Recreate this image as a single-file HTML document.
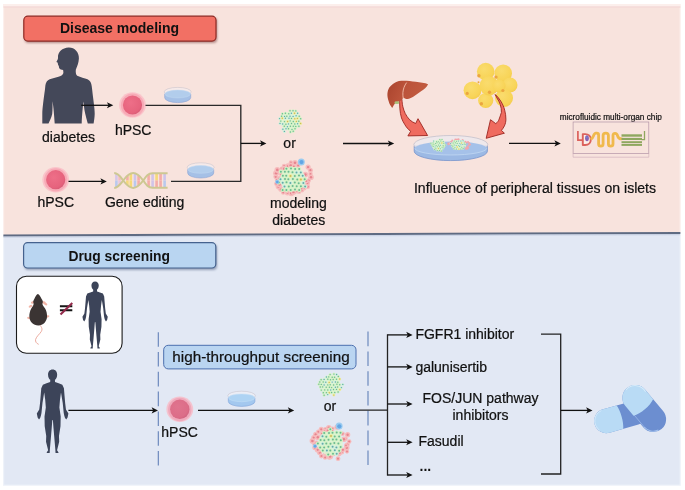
<!DOCTYPE html>
<html lang="en"><head><meta charset="utf-8"><title>Disease modeling and drug screening</title>
<style>html,body{margin:0;padding:0;background:#fff}body{width:685px;height:490px;overflow:hidden}svg{display:block}text{font-family:"Liberation Sans",Arial,Helvetica,sans-serif;fill:#111;opacity:.999;stroke:#111;stroke-width:.22px}text[font-weight]{stroke-width:0}</style></head><body>
<svg width="685" height="490" viewBox="0 0 685 490">
<defs>
<radialGradient id="gcell" cx="0.4" cy="0.38" r="0.75"><stop offset="0" stop-color="#ee6f88"/><stop offset="0.7" stop-color="#e6637d"/><stop offset="1" stop-color="#cf5570"/></radialGradient>
<radialGradient id="gcell2" cx="0.4" cy="0.38" r="0.75"><stop offset="0" stop-color="#e0748e"/><stop offset="0.7" stop-color="#dc6d88"/><stop offset="1" stop-color="#c95d7a"/></radialGradient>
<linearGradient id="gliver" x1="0" y1="0" x2="1" y2="0.3"><stop offset="0" stop-color="#a9432d"/><stop offset="0.45" stop-color="#bb533a"/><stop offset="1" stop-color="#c25c40"/></linearGradient>
<radialGradient id="gfat" cx="0.4" cy="0.35" r="0.7"><stop offset="0" stop-color="#fadc6e"/><stop offset="0.75" stop-color="#f8d458"/><stop offset="1" stop-color="#f4cb4c"/></radialGradient>
<filter id="soft" x="-10%" y="-10%" width="120%" height="120%"><feGaussianBlur stdDeviation="0.35"/></filter>
<filter id="blur1" x="-10%" y="-30%" width="120%" height="160%"><feGaussianBlur stdDeviation="0.8"/></filter>
</defs>
<rect x="0" y="0" width="685" height="490" fill="#ffffff"/>
<rect x="3" y="235" width="677.8" height="250.8" fill="#eef2f9"/>
<rect x="4.2" y="230" width="675.4" height="254.6" fill="#e2e8f4"/>
<path d="M3 3.9H680.8V232.4L3 235.2Z" fill="#fcefec"/>
<path d="M4.2 7.4H679.6V232.4L4.2 235.2Z" fill="#f8e3dd"/>
<rect x="3.4" y="6.5" width="677" height="1" fill="#f0d0cd"/>
<path d="M3.4 234.6L680.4 231.9V233.9L3.4 236.5Z" fill="#5f6b82"/>
<path d="M3.4 236.5L680.4 233.9V235.2L3.4 237.8Z" fill="#bcc7dc" opacity="0.6"/>
<rect x="24.6" y="17.4" width="192.6" height="25.6" rx="4" fill="#6e3434" opacity="0.5" filter="url(#blur1)"/>
<rect x="23.8" y="16.2" width="192.2" height="24.9" rx="4" fill="#f27064" stroke="#8e2a24" stroke-width="1.2"/>
<text x="119.5" y="33.4" font-size="14" font-weight="700" text-anchor="middle">Disease modeling</text>
<rect x="24.4" y="243.9" width="192.6" height="26" rx="4" fill="#46587c" opacity="0.5" filter="url(#blur1)"/>
<rect x="23.6" y="242.7" width="192.2" height="25.3" rx="4" fill="#b9d5f1" stroke="#45628e" stroke-width="1.2"/>
<text x="119.2" y="260.6" font-size="13.85" font-weight="700" text-anchor="middle">Drug screening</text>
<path fill="#444859" d="M68.6 47.6C74.5 47.4 79.2 52.2 78.9 58.6C78.7 63.4 77 66.8 75.8 69.7C75.6 72.4 75.9 74.6 77.2 75.7C80.5 77.4 84.5 78 87.5 79.2C90.3 80.4 91.4 83 91.7 86L92.2 90C93 98 94.8 108 94.7 114C94.6 118 94 121 93.6 123.5H87.8C86.6 119 84.6 112 84.2 108C83.9 105.4 83.8 103.4 83.5 101.5C82.8 106 82 116 81.7 123.5H54.7C54.2 116 53.4 106 52.5 101.3C52.6 105 52.6 110 52.2 114C51.4 118 49.6 121 48.5 123.5H42.3V114C42.4 108 43.8 98 44.9 90L45.4 85.2C45.9 82.4 47.2 80.3 49.7 79.2C53 77.9 57 77.4 60 76.2C62.4 75.3 63.4 74 63.4 72.3L63.1 69.9C61.6 69.9 60 69.6 59.2 68C58.7 67 59.1 66.2 58.6 65.6C58 65.1 57.8 64.6 58.2 63.9C57.6 63.5 57.5 63.1 57.8 62.6C56.6 62.4 56.2 61.9 56.8 61C57.5 60 58 59 58 57.7C57.6 52.2 62.3 47.8 68.6 47.6Z"/>
<g transform="translate(113.1 105.3) rotate(0)"><path d="M-31.9 0H-4" stroke="#111" stroke-width="1.3" fill="none"/><path d="M0.2 0L-6.2 -3.05L-4.6 0L-6.2 3.05Z" fill="#111"/></g>
<text x="68.5" y="142" font-size="14" text-anchor="middle">diabetes</text>
<ellipse cx="132.5" cy="105" rx="13.4" ry="12.8" fill="#fac4ca"/><circle cx="132.5" cy="105.2" r="11.6" fill="#f7aab6"/><circle cx="132.5" cy="105" r="9.6" fill="url(#gcell)"/>
<text x="133.2" y="135" font-size="14" text-anchor="middle">hPSC</text>
<ellipse cx="177.7" cy="91.9" rx="13.5" ry="4.5" fill="#f3f1f6" fill-opacity="0.5" stroke="#c3bfc9" stroke-width="0.5"/>
<path d="M164.7 94 v3.6 a13 5 0 0 0 26 0 v-3.6 z" fill="#a5c0e6" stroke="#8aa3d3" stroke-width="0.6"/>
<ellipse cx="177.7" cy="94" rx="12.8" ry="3.9" fill="#b2cdec" stroke="#c3d8f1" stroke-width="0.5"/>
<path d="M145.5 105.4H240.8V181.4H171" fill="none" stroke="#2a2a2a" stroke-width="1.35"/>
<g transform="translate(266.2 143.4) rotate(0)"><path d="M-25.4 0H-4" stroke="#111" stroke-width="1.3" fill="none"/><path d="M0.2 0L-6.2 -3.05L-4.6 0L-6.2 3.05Z" fill="#111"/></g>
<ellipse cx="55.7" cy="179.7" rx="13.4" ry="12.8" fill="#fac4ca"/><circle cx="55.7" cy="179.9" r="11.6" fill="#f7aab6"/><circle cx="55.7" cy="179.7" r="9.6" fill="url(#gcell)"/>
<text x="55.8" y="207" font-size="14" text-anchor="middle">hPSC</text>
<g transform="translate(106.6 181.4) rotate(0)"><path d="M-38.1 0H-4" stroke="#111" stroke-width="1.3" fill="none"/><path d="M0.2 0L-6.2 -3.05L-4.6 0L-6.2 3.05Z" fill="#111"/></g>
<text x="144.6" y="207" font-size="14" text-anchor="middle">Gene editing</text>
<ellipse cx="200.7" cy="167.3" rx="13.5" ry="4.5" fill="#f3f1f6" fill-opacity="0.5" stroke="#c3bfc9" stroke-width="0.5"/>
<path d="M187.7 169.4 v3.6 a13 5 0 0 0 26 0 v-3.6 z" fill="#a5c0e6" stroke="#8aa3d3" stroke-width="0.6"/>
<ellipse cx="200.7" cy="169.4" rx="12.8" ry="3.9" fill="#b2cdec" stroke="#c3d8f1" stroke-width="0.5"/>
<rect x="115.1" y="173.7" width="2.6" height="6.8" fill="#d6c6e8"/>
<rect x="115.1" y="180.5" width="2.6" height="6.8" fill="#b9c9ee"/>
<rect x="118.3" y="175.9" width="2.6" height="4.6" fill="#f3bcc0"/>
<rect x="118.3" y="180.5" width="2.6" height="4.6" fill="#e6c6e0"/>
<rect x="126.1" y="175.7" width="2.6" height="4.8" fill="#f4aca8"/>
<rect x="126.1" y="180.5" width="2.6" height="4.8" fill="#f6d978"/>
<rect x="129.5" y="173.7" width="2.6" height="6.8" fill="#f6d978"/>
<rect x="129.5" y="180.5" width="2.6" height="6.8" fill="#f6d978"/>
<rect x="133.7" y="173.5" width="2.6" height="7" fill="#cdc3ea"/>
<rect x="133.7" y="180.5" width="2.6" height="7" fill="#b9c9ee"/>
<rect x="137.3" y="175.4" width="2.6" height="5.1" fill="#f4aca8"/>
<rect x="137.3" y="180.5" width="2.6" height="5.1" fill="#f4aca8"/>
<rect x="147.3" y="174.4" width="2.6" height="6.1" fill="#f4aca8"/>
<rect x="147.3" y="180.5" width="2.6" height="6.1" fill="#f4aca8"/>
<rect x="151.3" y="173.3" width="2.6" height="7.2" fill="#d0c4e8"/>
<rect x="151.3" y="180.5" width="2.6" height="7.2" fill="#d0c4e8"/>
<rect x="155.3" y="173.3" width="2.6" height="7.2" fill="#f6d978"/>
<rect x="155.3" y="180.5" width="2.6" height="7.2" fill="#f4aca8"/>
<rect x="159.3" y="173.3" width="2.6" height="7.2" fill="#f4aca8"/>
<rect x="159.3" y="180.5" width="2.6" height="7.2" fill="#f4aca8"/>
<rect x="163.3" y="173.3" width="2.6" height="7.2" fill="#cdc3ea"/>
<rect x="163.3" y="180.5" width="2.6" height="7.2" fill="#b9c9ee"/>
<path d="M114.2 173.1 C118.4 173.3 120.4 176.7 123.2 180.5 C126.2 184.6 128.8 187.9 133.2 187.9 C137.6 187.9 140.2 184.6 143.2 180.5C146 176.4 148 173.3 152.5 173.3 H167.6" fill="none" stroke="#cdc892" stroke-width="2"/>
<path d="M114.2 187.9 C118.4 187.7 120.4 184.3 123.2 180.5 C126.2 176.4 128.8 173.1 133.2 173.1 C137.6 173.1 140.2 176.4 143.2 180.5C146 184.6 148 187.7 152.5 187.7 H167.6" fill="none" stroke="#cdc892" stroke-width="2"/>
<g filter="url(#soft)"><ellipse cx="290.2" cy="121.2" rx="9.8" ry="9.8" fill="#e1f5d5" opacity="0.9"/>
<circle cx="290" cy="110.7" r="1.5" fill="#d3f2c5"/>
<circle cx="290" cy="110.7" r="0.7" fill="#6cba92"/>
<circle cx="293" cy="110.7" r="1.5" fill="#d3f2c5"/>
<circle cx="293" cy="110.7" r="0.7" fill="#6cba92"/>
<circle cx="295.8" cy="110.9" r="1.5" fill="#d3f2c5"/>
<circle cx="295.8" cy="110.9" r="0.7" fill="#6cba92"/>
<circle cx="282.4" cy="113.7" r="1.5" fill="#d3f2c5"/>
<circle cx="282.4" cy="113.7" r="0.7" fill="#6cba92"/>
<circle cx="285.4" cy="113.2" r="1.5" fill="#d3f2c5"/>
<circle cx="285.4" cy="113.2" r="0.7" fill="#6cba92"/>
<circle cx="288.8" cy="113.7" r="1.5" fill="#d3f2c5"/>
<circle cx="288.8" cy="113.7" r="0.7" fill="#6cba92"/>
<circle cx="291.4" cy="113.2" r="1.5" fill="#d0f1dc"/>
<circle cx="291.4" cy="113.2" r="0.7" fill="#64aaa8"/>
<circle cx="294.5" cy="113.3" r="1.5" fill="#eceea4"/>
<circle cx="294.5" cy="113.3" r="0.7" fill="#cdb95c"/>
<circle cx="297.6" cy="113.3" r="1.5" fill="#d0f1dc"/>
<circle cx="297.6" cy="113.3" r="0.7" fill="#64aaa8"/>
<circle cx="281.6" cy="116.2" r="1.5" fill="#d3f2c5"/>
<circle cx="281.6" cy="116.2" r="0.7" fill="#6cba92"/>
<circle cx="284.6" cy="116.4" r="1.5" fill="#d0f1dc"/>
<circle cx="284.6" cy="116.4" r="0.7" fill="#64aaa8"/>
<circle cx="286.8" cy="116.2" r="1.5" fill="#d3f2c5"/>
<circle cx="286.8" cy="116.2" r="0.7" fill="#6cba92"/>
<circle cx="290" cy="116.2" r="1.5" fill="#d0f1dc"/>
<circle cx="290" cy="116.2" r="0.7" fill="#64aaa8"/>
<circle cx="293.1" cy="116.4" r="1.5" fill="#d0f1dc"/>
<circle cx="293.1" cy="116.4" r="0.7" fill="#64aaa8"/>
<circle cx="296.1" cy="115.8" r="1.5" fill="#d0f1dc"/>
<circle cx="296.1" cy="115.8" r="0.7" fill="#64aaa8"/>
<circle cx="299.2" cy="116.3" r="1.5" fill="#d3f2c5"/>
<circle cx="299.2" cy="116.3" r="0.7" fill="#6cba92"/>
<circle cx="279.6" cy="118.6" r="1.5" fill="#d0f1dc"/>
<circle cx="279.6" cy="118.6" r="0.7" fill="#64aaa8"/>
<circle cx="282.3" cy="118.2" r="1.5" fill="#eceea4"/>
<circle cx="282.3" cy="118.2" r="0.7" fill="#cdb95c"/>
<circle cx="285.4" cy="118.2" r="1.5" fill="#d0f1dc"/>
<circle cx="285.4" cy="118.2" r="0.7" fill="#64aaa8"/>
<circle cx="289" cy="118.2" r="1.5" fill="#d0f1dc"/>
<circle cx="289" cy="118.2" r="0.7" fill="#64aaa8"/>
<circle cx="291.5" cy="118.4" r="1.5" fill="#d3f2c5"/>
<circle cx="291.5" cy="118.4" r="0.7" fill="#6cba92"/>
<circle cx="294.8" cy="118.7" r="1.5" fill="#eceea4"/>
<circle cx="294.8" cy="118.7" r="0.7" fill="#cdb95c"/>
<circle cx="297.4" cy="118.4" r="1.5" fill="#eceea4"/>
<circle cx="297.4" cy="118.4" r="0.7" fill="#cdb95c"/>
<circle cx="300.7" cy="118.8" r="1.5" fill="#d3f2c5"/>
<circle cx="300.7" cy="118.8" r="0.7" fill="#6cba92"/>
<circle cx="280.8" cy="121.1" r="1.5" fill="#d3f2c5"/>
<circle cx="280.8" cy="121.1" r="0.7" fill="#6cba92"/>
<circle cx="284.5" cy="121.6" r="1.5" fill="#d3f2c5"/>
<circle cx="284.5" cy="121.6" r="0.7" fill="#6cba92"/>
<circle cx="287.6" cy="121.5" r="1.5" fill="#eceea4"/>
<circle cx="287.6" cy="121.5" r="0.7" fill="#cdb95c"/>
<circle cx="290.2" cy="120.9" r="1.5" fill="#d3f2c5"/>
<circle cx="290.2" cy="120.9" r="0.7" fill="#6cba92"/>
<circle cx="293.3" cy="121.5" r="1.5" fill="#d3f2c5"/>
<circle cx="293.3" cy="121.5" r="0.7" fill="#6cba92"/>
<circle cx="296.4" cy="121.4" r="1.5" fill="#eceea4"/>
<circle cx="296.4" cy="121.4" r="0.7" fill="#cdb95c"/>
<circle cx="298.8" cy="121.3" r="1.5" fill="#d3f2c5"/>
<circle cx="298.8" cy="121.3" r="0.7" fill="#6cba92"/>
<circle cx="280" cy="123.4" r="1.5" fill="#d0f1dc"/>
<circle cx="280" cy="123.4" r="0.7" fill="#64aaa8"/>
<circle cx="282.7" cy="124" r="1.5" fill="#d0f1dc"/>
<circle cx="282.7" cy="124" r="0.7" fill="#64aaa8"/>
<circle cx="285.9" cy="124.2" r="1.5" fill="#d3f2c5"/>
<circle cx="285.9" cy="124.2" r="0.7" fill="#6cba92"/>
<circle cx="288.5" cy="123.9" r="1.5" fill="#d0f1dc"/>
<circle cx="288.5" cy="123.9" r="0.7" fill="#64aaa8"/>
<circle cx="291.5" cy="123.5" r="1.5" fill="#d3f2c5"/>
<circle cx="291.5" cy="123.5" r="0.7" fill="#6cba92"/>
<circle cx="294.8" cy="124" r="1.5" fill="#d3f2c5"/>
<circle cx="294.8" cy="124" r="0.7" fill="#6cba92"/>
<circle cx="297.6" cy="123.7" r="1.5" fill="#d0f1dc"/>
<circle cx="297.6" cy="123.7" r="0.7" fill="#64aaa8"/>
<circle cx="300.6" cy="123.4" r="1.5" fill="#eceea4"/>
<circle cx="300.6" cy="123.4" r="0.7" fill="#cdb95c"/>
<circle cx="284.3" cy="126.2" r="1.5" fill="#d3f2c5"/>
<circle cx="284.3" cy="126.2" r="0.7" fill="#6cba92"/>
<circle cx="287.4" cy="126.8" r="1.5" fill="#d0f1dc"/>
<circle cx="287.4" cy="126.8" r="0.7" fill="#64aaa8"/>
<circle cx="290.4" cy="126.3" r="1.5" fill="#d3f2c5"/>
<circle cx="290.4" cy="126.3" r="0.7" fill="#6cba92"/>
<circle cx="293.3" cy="126.2" r="1.5" fill="#d3f2c5"/>
<circle cx="293.3" cy="126.2" r="0.7" fill="#6cba92"/>
<circle cx="295.8" cy="126.4" r="1.5" fill="#d3f2c5"/>
<circle cx="295.8" cy="126.4" r="0.7" fill="#6cba92"/>
<circle cx="298.9" cy="126.3" r="1.5" fill="#d3f2c5"/>
<circle cx="298.9" cy="126.3" r="0.7" fill="#6cba92"/>
<circle cx="282.9" cy="129.2" r="1.5" fill="#d0f1dc"/>
<circle cx="282.9" cy="129.2" r="0.7" fill="#64aaa8"/>
<circle cx="286" cy="128.8" r="1.5" fill="#d0f1dc"/>
<circle cx="286" cy="128.8" r="0.7" fill="#64aaa8"/>
<circle cx="288.5" cy="128.7" r="1.5" fill="#d3f2c5"/>
<circle cx="288.5" cy="128.7" r="0.7" fill="#6cba92"/>
<circle cx="292" cy="129.4" r="1.5" fill="#d3f2c5"/>
<circle cx="292" cy="129.4" r="0.7" fill="#6cba92"/>
<circle cx="295" cy="128.8" r="1.5" fill="#d3f2c5"/>
<circle cx="295" cy="128.8" r="0.7" fill="#6cba92"/>
<circle cx="284.4" cy="131.4" r="1.5" fill="#d0f1dc"/>
<circle cx="284.4" cy="131.4" r="0.7" fill="#64aaa8"/>
<circle cx="290.4" cy="132" r="1.5" fill="#d3f2c5"/>
<circle cx="290.4" cy="132" r="0.7" fill="#6cba92"/>
<circle cx="293.2" cy="131.2" r="1.5" fill="#d3f2c5"/>
<circle cx="293.2" cy="131.2" r="0.7" fill="#6cba92"/></g>
<text x="289.6" y="147.6" font-size="14" text-anchor="middle">or</text>
<g filter="url(#soft)"><circle cx="291.3" cy="193.3" r="3" fill="#f6bcbd"/>
<circle cx="291.3" cy="193.3" r="1.3" fill="#e7858f"/>
<circle cx="287.4" cy="192.9" r="2.5" fill="#f6bcbd"/>
<circle cx="287.4" cy="192.9" r="1.1" fill="#e7858f"/>
<circle cx="283.2" cy="192.5" r="2.2" fill="#f6bcbd"/>
<circle cx="283.2" cy="192.5" r="1" fill="#e7858f"/>
<circle cx="281" cy="189.2" r="2.7" fill="#f6bcbd"/>
<circle cx="281" cy="189.2" r="1.2" fill="#e7858f"/>
<circle cx="278.4" cy="186.6" r="2.8" fill="#f6bcbd"/>
<circle cx="278.4" cy="186.6" r="1.3" fill="#e7858f"/>
<circle cx="276.4" cy="183.7" r="2.3" fill="#f6bcbd"/>
<circle cx="276.4" cy="183.7" r="1.1" fill="#e7858f"/>
<circle cx="276.9" cy="180.1" r="2.2" fill="#f6bcbd"/>
<circle cx="276.9" cy="180.1" r="1" fill="#e7858f"/>
<circle cx="275.7" cy="176.8" r="2.4" fill="#f6bcbd"/>
<circle cx="275.7" cy="176.8" r="1.1" fill="#e7858f"/>
<circle cx="276.1" cy="173.3" r="3" fill="#f6bcbd"/>
<circle cx="276.1" cy="173.3" r="1.3" fill="#e7858f"/>
<circle cx="277.3" cy="169.9" r="2.8" fill="#f6bcbd"/>
<circle cx="277.3" cy="169.9" r="1.3" fill="#e7858f"/>
<circle cx="281.7" cy="168.6" r="2.2" fill="#f6bcbd"/>
<circle cx="281.7" cy="168.6" r="1" fill="#e7858f"/>
<circle cx="284.1" cy="166.1" r="2.3" fill="#f6bcbd"/>
<circle cx="284.1" cy="166.1" r="1" fill="#e7858f"/>
<circle cx="287.7" cy="165.4" r="2.2" fill="#f6bcbd"/>
<circle cx="287.7" cy="165.4" r="1" fill="#e7858f"/>
<circle cx="290.9" cy="162.4" r="2.2" fill="#f6bcbd"/>
<circle cx="290.9" cy="162.4" r="1" fill="#e7858f"/>
<circle cx="295" cy="162.8" r="2.8" fill="#f6bcbd"/>
<circle cx="295" cy="162.8" r="1.3" fill="#e7858f"/>
<circle cx="298.1" cy="165.6" r="2.3" fill="#f6bcbd"/>
<circle cx="298.1" cy="165.6" r="1" fill="#e7858f"/>
<circle cx="308.1" cy="167.1" r="2.6" fill="#f6bcbd"/>
<circle cx="308.1" cy="167.1" r="1.2" fill="#e7858f"/>
<circle cx="310.4" cy="170.2" r="2.5" fill="#f6bcbd"/>
<circle cx="310.4" cy="170.2" r="1.1" fill="#e7858f"/>
<circle cx="310.5" cy="173.9" r="2.3" fill="#f6bcbd"/>
<circle cx="310.5" cy="173.9" r="1" fill="#e7858f"/>
<circle cx="311" cy="177.3" r="2.8" fill="#f6bcbd"/>
<circle cx="311" cy="177.3" r="1.2" fill="#e7858f"/>
<circle cx="308.7" cy="180.4" r="2.2" fill="#f6bcbd"/>
<circle cx="308.7" cy="180.4" r="1" fill="#e7858f"/>
<circle cx="307.3" cy="183" r="2.7" fill="#f6bcbd"/>
<circle cx="307.3" cy="183" r="1.2" fill="#e7858f"/>
<circle cx="307.9" cy="186.7" r="2.2" fill="#f6bcbd"/>
<circle cx="307.9" cy="186.7" r="1" fill="#e7858f"/>
<circle cx="304" cy="187.9" r="2.5" fill="#f6bcbd"/>
<circle cx="304" cy="187.9" r="1.1" fill="#e7858f"/>
<circle cx="301.9" cy="190.2" r="2.3" fill="#f6bcbd"/>
<circle cx="301.9" cy="190.2" r="1" fill="#e7858f"/>
<circle cx="299" cy="191.8" r="2.3" fill="#f6bcbd"/>
<circle cx="299" cy="191.8" r="1.1" fill="#e7858f"/>
<circle cx="296.6" cy="190.4" r="3" fill="#f6bcbd"/>
<circle cx="296.6" cy="190.4" r="1.3" fill="#e7858f"/>
<circle cx="293.5" cy="191.9" r="2.8" fill="#f6bcbd"/>
<circle cx="293.5" cy="191.9" r="1.3" fill="#e7858f"/>
<circle cx="287.8" cy="166.2" r="2.4" fill="#f6bcbd"/>
<circle cx="287.8" cy="166.2" r="1.1" fill="#e7858f"/>
<circle cx="290.7" cy="165.5" r="2.9" fill="#f6bcbd"/>
<circle cx="290.7" cy="165.5" r="1.3" fill="#e7858f"/>
<circle cx="293.9" cy="166.5" r="2.3" fill="#f6bcbd"/>
<circle cx="293.9" cy="166.5" r="1" fill="#e7858f"/>
<circle cx="286.4" cy="191.1" r="2.5" fill="#f6bcbd"/>
<circle cx="286.4" cy="191.1" r="1.1" fill="#e7858f"/>
<circle cx="279.5" cy="184.4" r="2.9" fill="#f6bcbd"/>
<circle cx="279.5" cy="184.4" r="1.3" fill="#e7858f"/>
<circle cx="279.4" cy="178.7" r="2.7" fill="#f6bcbd"/>
<circle cx="279.4" cy="178.7" r="1.2" fill="#e7858f"/>
<circle cx="281" cy="173.9" r="2.2" fill="#f6bcbd"/>
<circle cx="281" cy="173.9" r="1" fill="#e7858f"/>
<circle cx="284.2" cy="168.7" r="3" fill="#f6bcbd"/>
<circle cx="284.2" cy="168.7" r="1.3" fill="#e7858f"/>
<circle cx="306.3" cy="181.1" r="2.3" fill="#f6bcbd"/>
<circle cx="306.3" cy="181.1" r="1" fill="#e7858f"/>
<circle cx="305.6" cy="185.9" r="2.3" fill="#f6bcbd"/>
<circle cx="305.6" cy="185.9" r="1" fill="#e7858f"/>
<circle cx="305.4" cy="174.6" r="2.8" fill="#f6bcbd"/>
<circle cx="305.4" cy="174.6" r="1.3" fill="#e7858f"/>
<circle cx="301.3" cy="188.4" r="2.4" fill="#f6bcbd"/>
<circle cx="301.3" cy="188.4" r="1.1" fill="#e7858f"/></g>
<g filter="url(#soft)"><ellipse cx="292.8" cy="179.2" rx="12.2" ry="12.2" fill="#e1f5d5" opacity="0.9"/>
<circle cx="286.4" cy="168.8" r="2.1" fill="#d3f2c5"/>
<circle cx="286.4" cy="168.8" r="1" fill="#6cba92"/>
<circle cx="291" cy="168.4" r="2.1" fill="#d3f2c5"/>
<circle cx="291" cy="168.4" r="1" fill="#6cba92"/>
<circle cx="295.1" cy="168.9" r="2.1" fill="#d3f2c5"/>
<circle cx="295.1" cy="168.9" r="1" fill="#6cba92"/>
<circle cx="299.2" cy="169" r="2.1" fill="#d3f2c5"/>
<circle cx="299.2" cy="169" r="1" fill="#6cba92"/>
<circle cx="280.9" cy="171.7" r="2.1" fill="#d3f2c5"/>
<circle cx="280.9" cy="171.7" r="1" fill="#6cba92"/>
<circle cx="284.9" cy="171.7" r="2.1" fill="#d3f2c5"/>
<circle cx="284.9" cy="171.7" r="1" fill="#6cba92"/>
<circle cx="288.5" cy="171.8" r="2.1" fill="#d3f2c5"/>
<circle cx="288.5" cy="171.8" r="1" fill="#6cba92"/>
<circle cx="292.5" cy="172.3" r="2.1" fill="#d3f2c5"/>
<circle cx="292.5" cy="172.3" r="1" fill="#6cba92"/>
<circle cx="296.5" cy="172.4" r="2.1" fill="#d0f1dc"/>
<circle cx="296.5" cy="172.4" r="1" fill="#64aaa8"/>
<circle cx="300.8" cy="172.4" r="2.1" fill="#d0f1dc"/>
<circle cx="300.8" cy="172.4" r="1" fill="#64aaa8"/>
<circle cx="282.9" cy="175.8" r="2.1" fill="#d3f2c5"/>
<circle cx="282.9" cy="175.8" r="1" fill="#6cba92"/>
<circle cx="286.2" cy="175.8" r="2.1" fill="#d3f2c5"/>
<circle cx="286.2" cy="175.8" r="1" fill="#6cba92"/>
<circle cx="290.5" cy="176.1" r="2.1" fill="#eceea4"/>
<circle cx="290.5" cy="176.1" r="1" fill="#cdb95c"/>
<circle cx="294.8" cy="175.9" r="2.1" fill="#d3f2c5"/>
<circle cx="294.8" cy="175.9" r="1" fill="#6cba92"/>
<circle cx="299" cy="175.5" r="2.1" fill="#d3f2c5"/>
<circle cx="299" cy="175.5" r="1" fill="#6cba92"/>
<circle cx="302.7" cy="175.8" r="2.1" fill="#d0f1dc"/>
<circle cx="302.7" cy="175.8" r="1" fill="#64aaa8"/>
<circle cx="280.5" cy="179.3" r="2.1" fill="#d0f1dc"/>
<circle cx="280.5" cy="179.3" r="1" fill="#64aaa8"/>
<circle cx="285" cy="179" r="2.1" fill="#d3f2c5"/>
<circle cx="285" cy="179" r="1" fill="#6cba92"/>
<circle cx="288.3" cy="179.3" r="2.1" fill="#d3f2c5"/>
<circle cx="288.3" cy="179.3" r="1" fill="#6cba92"/>
<circle cx="292.9" cy="178.9" r="2.1" fill="#d3f2c5"/>
<circle cx="292.9" cy="178.9" r="1" fill="#6cba92"/>
<circle cx="297.3" cy="179.6" r="2.1" fill="#d3f2c5"/>
<circle cx="297.3" cy="179.6" r="1" fill="#6cba92"/>
<circle cx="300.9" cy="179.5" r="2.1" fill="#eceea4"/>
<circle cx="300.9" cy="179.5" r="1" fill="#cdb95c"/>
<circle cx="304.7" cy="179.2" r="2.1" fill="#d3f2c5"/>
<circle cx="304.7" cy="179.2" r="1" fill="#6cba92"/>
<circle cx="278.8" cy="182.6" r="2.1" fill="#d3f2c5"/>
<circle cx="278.8" cy="182.6" r="1" fill="#6cba92"/>
<circle cx="282.7" cy="182.8" r="2.1" fill="#d0f1dc"/>
<circle cx="282.7" cy="182.8" r="1" fill="#64aaa8"/>
<circle cx="286.5" cy="182.3" r="2.1" fill="#d3f2c5"/>
<circle cx="286.5" cy="182.3" r="1" fill="#6cba92"/>
<circle cx="290.4" cy="183.1" r="2.1" fill="#d0f1dc"/>
<circle cx="290.4" cy="183.1" r="1" fill="#64aaa8"/>
<circle cx="294.8" cy="182.4" r="2.1" fill="#d3f2c5"/>
<circle cx="294.8" cy="182.4" r="1" fill="#6cba92"/>
<circle cx="298.7" cy="183.2" r="2.1" fill="#d3f2c5"/>
<circle cx="298.7" cy="183.2" r="1" fill="#6cba92"/>
<circle cx="303.4" cy="183.1" r="2.1" fill="#d0f1dc"/>
<circle cx="303.4" cy="183.1" r="1" fill="#64aaa8"/>
<circle cx="284.5" cy="186.5" r="2.1" fill="#d0f1dc"/>
<circle cx="284.5" cy="186.5" r="1" fill="#64aaa8"/>
<circle cx="288.8" cy="186.6" r="2.1" fill="#d3f2c5"/>
<circle cx="288.8" cy="186.6" r="1" fill="#6cba92"/>
<circle cx="292.6" cy="186.1" r="2.1" fill="#d3f2c5"/>
<circle cx="292.6" cy="186.1" r="1" fill="#6cba92"/>
<circle cx="296.7" cy="186.3" r="2.1" fill="#d3f2c5"/>
<circle cx="296.7" cy="186.3" r="1" fill="#6cba92"/>
<circle cx="300.9" cy="186.3" r="2.1" fill="#d3f2c5"/>
<circle cx="300.9" cy="186.3" r="1" fill="#6cba92"/>
<circle cx="305.1" cy="186.5" r="2.1" fill="#d0f1dc"/>
<circle cx="305.1" cy="186.5" r="1" fill="#64aaa8"/>
<circle cx="282.6" cy="190" r="2.1" fill="#d3f2c5"/>
<circle cx="282.6" cy="190" r="1" fill="#6cba92"/>
<circle cx="286.4" cy="190.1" r="2.1" fill="#d3f2c5"/>
<circle cx="286.4" cy="190.1" r="1" fill="#6cba92"/>
<circle cx="290.7" cy="189.9" r="2.1" fill="#d3f2c5"/>
<circle cx="290.7" cy="189.9" r="1" fill="#6cba92"/>
<circle cx="295" cy="189.5" r="2.1" fill="#d3f2c5"/>
<circle cx="295" cy="189.5" r="1" fill="#6cba92"/>
<circle cx="299.2" cy="190.1" r="2.1" fill="#d3f2c5"/>
<circle cx="299.2" cy="190.1" r="1" fill="#6cba92"/></g>
<circle cx="301.3" cy="161.9" r="3.5" fill="#9acbf0"/>
<circle cx="301.5" cy="162.1" r="2.1" fill="#62a6e4"/>
<circle cx="277.1" cy="181.8" r="2.1" fill="#9acbf0"/>
<circle cx="277.3" cy="182" r="1.3" fill="#62a6e4"/>
<text x="298.4" y="208.3" font-size="14" text-anchor="middle">modeling</text>
<text x="298.8" y="224.6" font-size="14" text-anchor="middle">diabetes</text>
<g transform="translate(394 143.5) rotate(0)"><path d="M-51 0H-4" stroke="#111" stroke-width="1.3" fill="none"/><path d="M0.2 0L-6.2 -3.05L-4.6 0L-6.2 3.05Z" fill="#111"/></g>
<g>
<path d="M414.2 146V151.2A36.6 9.4 0 0 0 487.4 151.2V146Z" fill="#9cb9e4" stroke="#7894cb" stroke-width="0.8"/>
<ellipse cx="450.8" cy="144.7" rx="37" ry="9.2" fill="#ece9ef" fill-opacity="0.75" stroke="#bdbcc9" stroke-width="0.7"/>
<ellipse cx="450.8" cy="148.3" rx="35.9" ry="6.7" fill="#a5c1e9"/>
<path d="M414.9 148.3A35.9 6.7 0 0 0 486.7 148.3" fill="none" stroke="#c6dbf3" stroke-width="0.7"/>
<g filter="url(#soft)"><circle cx="468" cy="141.9" r="1.0" fill="#f3a6aa"/><circle cx="467.4" cy="148.6" r="1.0" fill="#f3a6aa"/><circle cx="449.4" cy="143.4" r="1.0" fill="#f3a6aa"/><circle cx="469" cy="142.9" r="1.0" fill="#f3a6aa"/><circle cx="462.6" cy="140.1" r="1.0" fill="#f3a6aa"/><circle cx="465.2" cy="141.7" r="1.0" fill="#f3a6aa"/><circle cx="455.3" cy="139.6" r="1.0" fill="#f3a6aa"/><circle cx="451.1" cy="141.8" r="1.0" fill="#f3a6aa"/><circle cx="466.4" cy="142.6" r="1.0" fill="#f3a6aa"/><circle cx="467.4" cy="146.7" r="1.0" fill="#f3a6aa"/><circle cx="466.5" cy="148.4" r="1.0" fill="#f3a6aa"/><circle cx="466.4" cy="148.6" r="1.0" fill="#f3a6aa"/><circle cx="452.3" cy="140.5" r="1.0" fill="#f3a6aa"/><circle cx="467" cy="148.2" r="1.0" fill="#f3a6aa"/><circle cx="458.8" cy="140.4" r="1.0" fill="#f3a6aa"/><circle cx="450.3" cy="142.9" r="1.0" fill="#f3a6aa"/><circle cx="448.6" cy="144.2" r="1.0" fill="#f3a6aa"/><circle cx="456.6" cy="140" r="1.0" fill="#f3a6aa"/><circle cx="457" cy="139.5" r="1.0" fill="#f3a6aa"/><circle cx="448.3" cy="143.4" r="1.0" fill="#f3a6aa"/><circle cx="470" cy="144.6" r="1.0" fill="#f3a6aa"/><circle cx="468.6" cy="145.3" r="1.0" fill="#f3a6aa"/><circle cx="450.5" cy="144.1" r="1.0" fill="#f3a6aa"/><circle cx="465.8" cy="148.6" r="1.0" fill="#f3a6aa"/><circle cx="468.2" cy="147.7" r="1.0" fill="#f3a6aa"/><circle cx="458.5" cy="139.3" r="1.0" fill="#f3a6aa"/></g>
<g filter="url(#soft)"><ellipse cx="438.5" cy="145.1" rx="7" ry="5.6" fill="#e1f5d5" opacity="0.9"/>
<circle cx="439.9" cy="139.6" r="1.1" fill="#d3f2c5"/>
<circle cx="439.9" cy="139.6" r="0.5" fill="#6cba92"/>
<circle cx="442" cy="139.5" r="1.1" fill="#d3f2c5"/>
<circle cx="442" cy="139.5" r="0.5" fill="#6cba92"/>
<circle cx="433.7" cy="141.1" r="1.1" fill="#d0f1dc"/>
<circle cx="433.7" cy="141.1" r="0.5" fill="#64aaa8"/>
<circle cx="436.7" cy="141.5" r="1.1" fill="#d3f2c5"/>
<circle cx="436.7" cy="141.5" r="0.5" fill="#6cba92"/>
<circle cx="438.3" cy="141.7" r="1.1" fill="#d3f2c5"/>
<circle cx="438.3" cy="141.7" r="0.5" fill="#6cba92"/>
<circle cx="440.9" cy="140.9" r="1.1" fill="#d3f2c5"/>
<circle cx="440.9" cy="140.9" r="0.5" fill="#6cba92"/>
<circle cx="443.2" cy="141.6" r="1.1" fill="#d3f2c5"/>
<circle cx="443.2" cy="141.6" r="0.5" fill="#6cba92"/>
<circle cx="430.9" cy="143.3" r="1.1" fill="#d3f2c5"/>
<circle cx="430.9" cy="143.3" r="0.5" fill="#6cba92"/>
<circle cx="433.1" cy="143" r="1.1" fill="#d3f2c5"/>
<circle cx="433.1" cy="143" r="0.5" fill="#6cba92"/>
<circle cx="435.6" cy="143.6" r="1.1" fill="#d3f2c5"/>
<circle cx="435.6" cy="143.6" r="0.5" fill="#6cba92"/>
<circle cx="437" cy="142.8" r="1.1" fill="#d3f2c5"/>
<circle cx="437" cy="142.8" r="0.5" fill="#6cba92"/>
<circle cx="439.6" cy="142.9" r="1.1" fill="#d3f2c5"/>
<circle cx="439.6" cy="142.9" r="0.5" fill="#6cba92"/>
<circle cx="441.9" cy="142.9" r="1.1" fill="#eceea4"/>
<circle cx="441.9" cy="142.9" r="0.5" fill="#cdb95c"/>
<circle cx="443.8" cy="143.2" r="1.1" fill="#d3f2c5"/>
<circle cx="443.8" cy="143.2" r="0.5" fill="#6cba92"/>
<circle cx="432.1" cy="144.9" r="1.1" fill="#d3f2c5"/>
<circle cx="432.1" cy="144.9" r="0.5" fill="#6cba92"/>
<circle cx="433.9" cy="144.7" r="1.1" fill="#d3f2c5"/>
<circle cx="433.9" cy="144.7" r="0.5" fill="#6cba92"/>
<circle cx="436.1" cy="145.5" r="1.1" fill="#d3f2c5"/>
<circle cx="436.1" cy="145.5" r="0.5" fill="#6cba92"/>
<circle cx="438.5" cy="145.1" r="1.1" fill="#d3f2c5"/>
<circle cx="438.5" cy="145.1" r="0.5" fill="#6cba92"/>
<circle cx="440.3" cy="145.2" r="1.1" fill="#d0f1dc"/>
<circle cx="440.3" cy="145.2" r="0.5" fill="#64aaa8"/>
<circle cx="443.1" cy="145.5" r="1.1" fill="#d3f2c5"/>
<circle cx="443.1" cy="145.5" r="0.5" fill="#6cba92"/>
<circle cx="445.3" cy="145.1" r="1.1" fill="#d3f2c5"/>
<circle cx="445.3" cy="145.1" r="0.5" fill="#6cba92"/>
<circle cx="433.1" cy="146.6" r="1.1" fill="#d3f2c5"/>
<circle cx="433.1" cy="146.6" r="0.5" fill="#6cba92"/>
<circle cx="435.1" cy="147" r="1.1" fill="#d0f1dc"/>
<circle cx="435.1" cy="147" r="0.5" fill="#64aaa8"/>
<circle cx="437.3" cy="146.8" r="1.1" fill="#d3f2c5"/>
<circle cx="437.3" cy="146.8" r="0.5" fill="#6cba92"/>
<circle cx="439.5" cy="146.8" r="1.1" fill="#d3f2c5"/>
<circle cx="439.5" cy="146.8" r="0.5" fill="#6cba92"/>
<circle cx="442.1" cy="147.2" r="1.1" fill="#d3f2c5"/>
<circle cx="442.1" cy="147.2" r="0.5" fill="#6cba92"/>
<circle cx="443.8" cy="146.9" r="1.1" fill="#d3f2c5"/>
<circle cx="443.8" cy="146.9" r="0.5" fill="#6cba92"/>
<circle cx="434.4" cy="149.3" r="1.1" fill="#d3f2c5"/>
<circle cx="434.4" cy="149.3" r="0.5" fill="#6cba92"/>
<circle cx="435.9" cy="148.7" r="1.1" fill="#d3f2c5"/>
<circle cx="435.9" cy="148.7" r="0.5" fill="#6cba92"/>
<circle cx="438.4" cy="148.6" r="1.1" fill="#eceea4"/>
<circle cx="438.4" cy="148.6" r="0.5" fill="#cdb95c"/>
<circle cx="440.3" cy="148.7" r="1.1" fill="#d3f2c5"/>
<circle cx="440.3" cy="148.7" r="0.5" fill="#6cba92"/>
<circle cx="443.1" cy="148.9" r="1.1" fill="#d0f1dc"/>
<circle cx="443.1" cy="148.9" r="0.5" fill="#64aaa8"/>
<circle cx="437.2" cy="150.5" r="1.1" fill="#d3f2c5"/>
<circle cx="437.2" cy="150.5" r="0.5" fill="#6cba92"/>
<circle cx="439.4" cy="150.5" r="1.1" fill="#d3f2c5"/>
<circle cx="439.4" cy="150.5" r="0.5" fill="#6cba92"/>
<circle cx="441.4" cy="151.1" r="1.1" fill="#d3f2c5"/>
<circle cx="441.4" cy="151.1" r="0.5" fill="#6cba92"/></g>
<g filter="url(#soft)"><ellipse cx="458.6" cy="145" rx="7.5" ry="5" fill="#e1f5d5" opacity="0.9"/>
<circle cx="454.2" cy="141.1" r="1.1" fill="#d3f2c5"/>
<circle cx="454.2" cy="141.1" r="0.5" fill="#6cba92"/>
<circle cx="456.6" cy="141.2" r="1.1" fill="#d3f2c5"/>
<circle cx="456.6" cy="141.2" r="0.5" fill="#6cba92"/>
<circle cx="458.4" cy="141" r="1.1" fill="#d0f1dc"/>
<circle cx="458.4" cy="141" r="0.5" fill="#64aaa8"/>
<circle cx="460.9" cy="140.9" r="1.1" fill="#d0f1dc"/>
<circle cx="460.9" cy="140.9" r="0.5" fill="#64aaa8"/>
<circle cx="463.1" cy="140.8" r="1.1" fill="#d0f1dc"/>
<circle cx="463.1" cy="140.8" r="0.5" fill="#64aaa8"/>
<circle cx="450.6" cy="143.4" r="1.1" fill="#d0f1dc"/>
<circle cx="450.6" cy="143.4" r="0.5" fill="#64aaa8"/>
<circle cx="453.1" cy="143" r="1.1" fill="#d3f2c5"/>
<circle cx="453.1" cy="143" r="0.5" fill="#6cba92"/>
<circle cx="455.3" cy="142.8" r="1.1" fill="#d3f2c5"/>
<circle cx="455.3" cy="142.8" r="0.5" fill="#6cba92"/>
<circle cx="457.2" cy="143.4" r="1.1" fill="#d3f2c5"/>
<circle cx="457.2" cy="143.4" r="0.5" fill="#6cba92"/>
<circle cx="459.9" cy="143.4" r="1.1" fill="#d0f1dc"/>
<circle cx="459.9" cy="143.4" r="0.5" fill="#64aaa8"/>
<circle cx="461.6" cy="143" r="1.1" fill="#eceea4"/>
<circle cx="461.6" cy="143" r="0.5" fill="#cdb95c"/>
<circle cx="464.3" cy="143" r="1.1" fill="#d3f2c5"/>
<circle cx="464.3" cy="143" r="0.5" fill="#6cba92"/>
<circle cx="452" cy="145.4" r="1.1" fill="#d3f2c5"/>
<circle cx="452" cy="145.4" r="0.5" fill="#6cba92"/>
<circle cx="454.1" cy="145.1" r="1.1" fill="#d3f2c5"/>
<circle cx="454.1" cy="145.1" r="0.5" fill="#6cba92"/>
<circle cx="456.2" cy="145.4" r="1.1" fill="#d0f1dc"/>
<circle cx="456.2" cy="145.4" r="0.5" fill="#64aaa8"/>
<circle cx="458.8" cy="145.4" r="1.1" fill="#d0f1dc"/>
<circle cx="458.8" cy="145.4" r="0.5" fill="#64aaa8"/>
<circle cx="460.9" cy="144.8" r="1.1" fill="#d0f1dc"/>
<circle cx="460.9" cy="144.8" r="0.5" fill="#64aaa8"/>
<circle cx="462.8" cy="144.6" r="1.1" fill="#d0f1dc"/>
<circle cx="462.8" cy="144.6" r="0.5" fill="#64aaa8"/>
<circle cx="465" cy="144.6" r="1.1" fill="#d3f2c5"/>
<circle cx="465" cy="144.6" r="0.5" fill="#6cba92"/>
<circle cx="452.9" cy="146.7" r="1.1" fill="#d3f2c5"/>
<circle cx="452.9" cy="146.7" r="0.5" fill="#6cba92"/>
<circle cx="454.9" cy="147.4" r="1.1" fill="#d0f1dc"/>
<circle cx="454.9" cy="147.4" r="0.5" fill="#64aaa8"/>
<circle cx="457.2" cy="146.9" r="1.1" fill="#eceea4"/>
<circle cx="457.2" cy="146.9" r="0.5" fill="#cdb95c"/>
<circle cx="459.7" cy="146.5" r="1.1" fill="#d3f2c5"/>
<circle cx="459.7" cy="146.5" r="0.5" fill="#6cba92"/>
<circle cx="461.8" cy="147.3" r="1.1" fill="#d3f2c5"/>
<circle cx="461.8" cy="147.3" r="0.5" fill="#6cba92"/>
<circle cx="464.1" cy="147" r="1.1" fill="#d0f1dc"/>
<circle cx="464.1" cy="147" r="0.5" fill="#64aaa8"/>
<circle cx="453.9" cy="148.7" r="1.1" fill="#d3f2c5"/>
<circle cx="453.9" cy="148.7" r="0.5" fill="#6cba92"/>
<circle cx="456.5" cy="149.1" r="1.1" fill="#d3f2c5"/>
<circle cx="456.5" cy="149.1" r="0.5" fill="#6cba92"/>
<circle cx="458.9" cy="149.1" r="1.1" fill="#eceea4"/>
<circle cx="458.9" cy="149.1" r="0.5" fill="#cdb95c"/>
<circle cx="460.8" cy="149" r="1.1" fill="#d3f2c5"/>
<circle cx="460.8" cy="149" r="0.5" fill="#6cba92"/>
<circle cx="463.1" cy="148.6" r="1.1" fill="#d3f2c5"/>
<circle cx="463.1" cy="148.6" r="0.5" fill="#6cba92"/></g>
</g>
<path d="M400.6 99C401.3 98.4 402 98.6 402.1 101.4C402.2 103.3 402.4 105.2 402.9 106.9C403.5 109.2 404.2 111.4 405.2 113.4C406.4 115.8 407.9 118 409.7 119.8C411.4 121.4 413.4 122.6 415.7 123.5L418 118.7L427.6 135.5L407.9 135.9L410.7 131.3C408.2 129.4 406.2 127 404.7 124.4C403.4 122.4 402.3 120.2 401.5 118C400.6 115 400.1 112 399.9 108.8C399.7 106.4 399.6 103.8 399.6 101.4C399.7 100.2 400 99.5 400.6 99Z" fill="#ef6b5f" stroke="#9c2620" stroke-width="0.9" stroke-linejoin="miter"/>
<path d="M392.9 84C395.5 82 398 80.9 401.4 80.7C406 80.4 411 81.2 415.7 81.7C420 82.2 425 82.8 428.1 84.2C426.6 87.4 424 89.4 421.4 91.1C418.6 93.2 415.8 95.3 412.9 96.9C410.8 98 408.4 99 406.4 99C405.2 99 404.4 98.2 403.6 97.6C402.6 99 401.4 100.2 400 101.1C398.6 101.8 397 102 395.7 102.8C394.4 103.8 393.4 106.4 392.2 107.9C390.6 106.2 389.2 103.6 388.6 101.1C387.8 98.8 387.3 96.4 387.4 94C387.5 91.6 388.2 89.4 389.3 87.6C390.2 86.2 391.5 85 392.9 84Z" fill="url(#gliver)"/>
<ellipse cx="396.9" cy="102.7" rx="2.5" ry="1.4" fill="#a9c07a"/>
<path d="M406.6 82.6C404.4 85.6 403.2 89 402.9 92.6C402.8 94.6 402.9 96.6 403.2 98.4" fill="none" stroke="#f3c0ac" stroke-width="0.9"/>
<circle cx="485.7" cy="71.6" r="8.8" fill="url(#gfat)"/>
<circle cx="503.2" cy="73.2" r="8.8" fill="url(#gfat)"/>
<circle cx="472.5" cy="90.3" r="8.9" fill="url(#gfat)"/>
<circle cx="510" cy="85" r="7.5" fill="url(#gfat)"/>
<circle cx="485.7" cy="100.5" r="7.6" fill="url(#gfat)"/>
<circle cx="504" cy="98" r="9" fill="url(#gfat)"/>
<circle cx="489.1" cy="85.8" r="9.6" fill="url(#gfat)"/>
<circle cx="499" cy="86" r="6.5" fill="url(#gfat)"/>
<circle cx="478.9" cy="75.8" r="1.7" fill="#eba640"/>
<circle cx="496" cy="77.1" r="1.7" fill="#eba640"/>
<circle cx="502.9" cy="90.5" r="1.6" fill="#eba640"/>
<circle cx="489.5" cy="92.2" r="1.7" fill="#eba640"/>
<circle cx="467.2" cy="93.4" r="1.6" fill="#eba640"/>
<circle cx="481.4" cy="103.7" r="1.7" fill="#eba640"/>
<circle cx="478.5" cy="82.3" r="1" fill="#eba640"/>
<path d="M495.2 94.5C497.4 96.4 499.2 98.6 500.8 101.2C502.6 104 503.9 107 504.7 110.2C505.5 113.2 505.9 116.2 505.9 119.2C505.9 121.6 505.4 123.8 504.4 125.9C503.6 127.6 502.6 129 501.4 130.4L504.4 133.2L486.2 138.3L490.5 119.7L495.8 123.7C497.4 122.4 498.5 121 499.1 119.2C499.8 117 500.8 114.8 501.4 112.4C501.5 109.8 501.1 107.2 500.3 104.6C499.5 102.2 498.3 99.9 496.9 97.9C496.3 96.8 495.7 95.7 495.2 94.5Z" fill="#ef6b5f" stroke="#9c2620" stroke-width="0.9"/>
<text x="535" y="192.6" font-size="14.05" text-anchor="middle">Influence of peripheral tissues on islets</text>
<g transform="translate(560.6 143.4) rotate(0)"><path d="M-51.6 0H-4" stroke="#111" stroke-width="1.3" fill="none"/><path d="M0.2 0L-6.2 -3.05L-4.6 0L-6.2 3.05Z" fill="#111"/></g>
<text x="610.8" y="120.4" font-size="8.6" text-anchor="middle" textLength="102" lengthAdjust="spacingAndGlyphs">microfluidic multi-organ chip</text>
<rect x="573.1" y="122" width="75.7" height="31.4" fill="none" stroke="#b394a6" stroke-width="0.7"/>
<path d="M573.1 153.4V157.2H648.8V153.4" fill="none" stroke="#cbaab7" stroke-width="0.6"/>
<path d="M577.9 130.9V140.1H582" fill="none" stroke="#dc625c" stroke-width="1.7"/>
<path d="M582.8 134.1V145H585.2C588.8 145 590.8 142.4 590.8 139.5C590.8 136.6 588.8 134.1 585.2 134.1Z" fill="#fbefea" stroke="#dc625c" stroke-width="1.9" stroke-linejoin="round"/>
<ellipse cx="587" cy="138.2" rx="1.9" ry="3" fill="#8b63b0"/>
<circle cx="586.8" cy="137.4" r="0.9" fill="#6a7fd6"/>
<path d="M591.6 138.6C593.6 137.8 593.4 133.2 595.9 133.2H596.8Q598.6 133.2 598.6 135V144C598.6 146.9 603.1 146.9 603.1 144V135.6C603.1 132.4 608.4 132.4 608.4 135.6V144C608.4 146.9 613 146.9 613 144V135.4C613 132.6 616.8 132.6 617.6 135.8C618.2 138.2 619.4 138.9 621.6 138.9" fill="none" stroke="#f0b94c" stroke-width="2.8" stroke-linecap="round" stroke-linejoin="round"/>
<rect x="621.5" y="134.3" width="20.5" height="2.4" fill="#8fa75f"/>
<rect x="621.5" y="137.9" width="20.5" height="2.1" fill="#8fa75f"/>
<rect x="621.5" y="141.2" width="20.5" height="1.9" fill="#8fa75f"/>
<rect x="621.5" y="143.9" width="20.5" height="2" fill="#8fa75f"/>
<path d="M641.6 139.6H644.5V131" fill="none" stroke="#8fa65e" stroke-width="1.3"/>
<rect x="16.5" y="276.3" width="105.6" height="77" rx="10" fill="#ffffff" stroke="#1a1a1a" stroke-width="1.1"/>
<g transform="translate(38.2 0) scale(1.08 1) translate(-38.2 0)">
<path d="M39.6 325C41.9 327.4 42.2 329.4 41 331.6C39.6 334 36.6 336.4 35.8 339.4C35.3 341.6 36.6 343.4 38.3 344.2" fill="none" stroke="#eaa497" stroke-width="0.9" stroke-linecap="round"/>
<ellipse cx="33.3" cy="302.3" rx="1.9" ry="1.2" fill="#f2b6a8" transform="rotate(-20 33.3 302.3)"/>
<ellipse cx="31.1" cy="306.2" rx="1.9" ry="1.1" fill="#f2b6a8" transform="rotate(-30 31.1 306.2)"/>
<ellipse cx="43.3" cy="302.5" rx="1.9" ry="1.2" fill="#f2b6a8" transform="rotate(20 43.3 302.5)"/>
<ellipse cx="45" cy="304" rx="1.8" ry="1.1" fill="#f2b6a8" transform="rotate(30 45 304)"/>
<ellipse cx="29.6" cy="318" rx="1.7" ry="1.1" fill="#f2b6a8" transform="rotate(20 29.6 318)"/>
<ellipse cx="46.9" cy="316.4" rx="1.7" ry="1.1" fill="#f2b6a8" transform="rotate(-20 46.9 316.4)"/>
<path d="M37.9 294C39 294.6 40.2 296.2 40.9 298C41.5 299.4 42.4 300.4 42.5 301.6C42.6 302.6 42 303.4 42.2 304.4C42.6 305.8 43.8 307 44.6 308.6C45.8 311 46.5 313.8 46.4 316.6C46.2 321.8 42.8 325.5 38.3 325.5C33.8 325.5 30.2 321.8 30 316.8C29.9 313.8 30.6 311 31.8 308.6C32.6 307 33.6 305.8 33.9 304.4C34.1 303.4 33.5 302.6 33.6 301.6C33.7 300.4 34.5 299.4 35 298C35.7 296.2 36.8 294.6 37.9 294Z" fill="#3b3433"/>
</g>
<path d="M59.9 306.3H72.3M59.9 310.3H72.3" stroke="#151515" stroke-width="2" fill="none"/>
<path d="M60.5 314.6L72.3 303" stroke="#92294a" stroke-width="2.1" fill="none"/>
<path id="hum" d="M0 0C2.8 0 4.6 2.2 4.5 5.2C4.4 8 3.4 9.6 2.3 10.2L2.4 12.4L6 13.6L9.6 15L11.2 18.5L11.8 26L12.4 33L13.2 39.5L15.6 43.4L14.8 47.5L13.4 49.4L12.2 47.6L11.5 45.5L11 43L10 33L8.3 22.8L7.3 30L6.7 37.5L8 46.5L7.8 56L6.3 65.8L6.5 71.5L4.4 79.8L5.9 82L5.6 82.6L2.9 82.6L2.7 79L1.7 67.5L0.9 58L0.3 50.2L0 50L-0.3 50.2L-0.9 58L-1.7 67.5L-2.7 79L-2.9 82.6L-5.6 82.6L-5.9 82L-4.4 79.8L-6.5 71.5L-6.3 65.8L-7.8 56L-8 46.5L-6.7 37.5L-7.3 30L-8.3 22.8L-10 33L-11 43L-11.5 45.5L-12.2 47.6L-13.4 49.4L-14.8 47.5L-15.6 43.4L-13.2 39.5L-12.4 33L-11.8 26L-11.2 18.5L-9.6 15L-6 13.6L-2.4 12.4L-2.3 10.2C-3.4 9.6 -4.4 8 -4.5 5.2C-4.6 2.2 -2.8 0 0 0Z" fill="#3c4459" transform="translate(52.6 369.5) scale(1.012)"/>
<path d="M0 0C2.8 0 4.6 2.2 4.5 5.2C4.4 8 3.4 9.6 2.3 10.2L2.4 12.4L6 13.6L9.6 15L11.2 18.5L11.8 26L12.4 33L13.2 39.5L15.6 43.4L14.8 47.5L13.4 49.4L12.2 47.6L11.5 45.5L11 43L10 33L8.3 22.8L7.3 30L6.7 37.5L8 46.5L7.8 56L6.3 65.8L6.5 71.5L4.4 79.8L5.9 82L5.6 82.6L2.9 82.6L2.7 79L1.7 67.5L0.9 58L0.3 50.2L0 50L-0.3 50.2L-0.9 58L-1.7 67.5L-2.7 79L-2.9 82.6L-5.6 82.6L-5.9 82L-4.4 79.8L-6.5 71.5L-6.3 65.8L-7.8 56L-8 46.5L-6.7 37.5L-7.3 30L-8.3 22.8L-10 33L-11 43L-11.5 45.5L-12.2 47.6L-13.4 49.4L-14.8 47.5L-15.6 43.4L-13.2 39.5L-12.4 33L-11.8 26L-11.2 18.5L-9.6 15L-6 13.6L-2.4 12.4L-2.3 10.2C-3.4 9.6 -4.4 8 -4.5 5.2C-4.6 2.2 -2.8 0 0 0Z" fill="#3c4459" transform="translate(95.1 281.4) scale(0.812)"/>
<g transform="translate(157.8 410.4) rotate(0)"><path d="M-89.4 0H-4" stroke="#111" stroke-width="1.3" fill="none"/><path d="M0.2 0L-6.2 -3.05L-4.6 0L-6.2 3.05Z" fill="#111"/></g>
<path d="M158.3 332.2V467" stroke="#6381b8" stroke-width="1.1" stroke-dasharray="14.6 5.2" fill="none"/>
<path d="M368 331.6V466.6" stroke="#6381b8" stroke-width="1.1" stroke-dasharray="14.6 5.2" fill="none"/>
<rect x="163.7" y="345.3" width="192.3" height="23.6" rx="4.5" fill="#bad5f1" stroke="#4c6fae" stroke-width="1"/>
<text x="261" y="362.4" font-size="15.2" text-anchor="middle" textLength="177.4" lengthAdjust="spacingAndGlyphs">high-throughput screening</text>
<ellipse cx="179.8" cy="409.3" rx="13.4" ry="12.8" fill="#f4c3cf"/><circle cx="179.8" cy="409.5" r="11.7" fill="#efa9bb"/><circle cx="179.8" cy="409.3" r="9.7" fill="url(#gcell2)"/>
<text x="179.6" y="436.6" font-size="14" text-anchor="middle">hPSC</text>
<ellipse cx="241.6" cy="395.7" rx="13.8" ry="4.5" fill="#f3f1f6" fill-opacity="0.5" stroke="#c3bfc9" stroke-width="0.5"/>
<path d="M228.3 397.8 v3.6 a13.3 5 0 0 0 26.6 0 v-3.6 z" fill="#a3c8ef" stroke="#7fa2d8" stroke-width="0.6"/>
<ellipse cx="241.6" cy="397.8" rx="13.1" ry="3.9" fill="#aed3f3" stroke="#c6e0f7" stroke-width="0.5"/>
<g transform="translate(294 410.4) rotate(0)"><path d="M-96 0H-4" stroke="#111" stroke-width="1.3" fill="none"/><path d="M0.2 0L-6.2 -3.05L-4.6 0L-6.2 3.05Z" fill="#111"/></g>
<g filter="url(#soft)"><ellipse cx="330.5" cy="384.6" rx="9.8" ry="9.8" fill="#e1f5d5" opacity="0.9"/>
<circle cx="330.1" cy="374.6" r="1.5" fill="#d3f2c5"/>
<circle cx="330.1" cy="374.6" r="0.7" fill="#6cba92"/>
<circle cx="333.9" cy="374.1" r="1.5" fill="#d3f2c5"/>
<circle cx="333.9" cy="374.1" r="0.7" fill="#6cba92"/>
<circle cx="336.6" cy="374.5" r="1.5" fill="#d0f1dc"/>
<circle cx="336.6" cy="374.5" r="0.7" fill="#64aaa8"/>
<circle cx="326.4" cy="377" r="1.5" fill="#d0f1dc"/>
<circle cx="326.4" cy="377" r="0.7" fill="#64aaa8"/>
<circle cx="328.7" cy="376.9" r="1.5" fill="#d3f2c5"/>
<circle cx="328.7" cy="376.9" r="0.7" fill="#6cba92"/>
<circle cx="332.2" cy="377.2" r="1.5" fill="#d3f2c5"/>
<circle cx="332.2" cy="377.2" r="0.7" fill="#6cba92"/>
<circle cx="334.6" cy="377.2" r="1.5" fill="#d3f2c5"/>
<circle cx="334.6" cy="377.2" r="0.7" fill="#6cba92"/>
<circle cx="338.3" cy="376.5" r="1.5" fill="#d3f2c5"/>
<circle cx="338.3" cy="376.5" r="0.7" fill="#6cba92"/>
<circle cx="321.1" cy="379.7" r="1.5" fill="#d3f2c5"/>
<circle cx="321.1" cy="379.7" r="0.7" fill="#6cba92"/>
<circle cx="324.1" cy="379.4" r="1.5" fill="#d0f1dc"/>
<circle cx="324.1" cy="379.4" r="0.7" fill="#64aaa8"/>
<circle cx="327.8" cy="379.2" r="1.5" fill="#d3f2c5"/>
<circle cx="327.8" cy="379.2" r="0.7" fill="#6cba92"/>
<circle cx="330.5" cy="379.8" r="1.5" fill="#d3f2c5"/>
<circle cx="330.5" cy="379.8" r="0.7" fill="#6cba92"/>
<circle cx="333.2" cy="379.5" r="1.5" fill="#d3f2c5"/>
<circle cx="333.2" cy="379.5" r="0.7" fill="#6cba92"/>
<circle cx="336.5" cy="379.3" r="1.5" fill="#d3f2c5"/>
<circle cx="336.5" cy="379.3" r="0.7" fill="#6cba92"/>
<circle cx="339.7" cy="379" r="1.5" fill="#eceea4"/>
<circle cx="339.7" cy="379" r="0.7" fill="#cdb95c"/>
<circle cx="319.8" cy="382" r="1.5" fill="#d3f2c5"/>
<circle cx="319.8" cy="382" r="0.7" fill="#6cba92"/>
<circle cx="323.2" cy="382" r="1.5" fill="#d3f2c5"/>
<circle cx="323.2" cy="382" r="0.7" fill="#6cba92"/>
<circle cx="325.8" cy="382.3" r="1.5" fill="#d0f1dc"/>
<circle cx="325.8" cy="382.3" r="0.7" fill="#64aaa8"/>
<circle cx="329.2" cy="382.4" r="1.5" fill="#eceea4"/>
<circle cx="329.2" cy="382.4" r="0.7" fill="#cdb95c"/>
<circle cx="332.2" cy="382.1" r="1.5" fill="#d0f1dc"/>
<circle cx="332.2" cy="382.1" r="0.7" fill="#64aaa8"/>
<circle cx="335.4" cy="382" r="1.5" fill="#d0f1dc"/>
<circle cx="335.4" cy="382" r="0.7" fill="#64aaa8"/>
<circle cx="337.8" cy="382.3" r="1.5" fill="#d3f2c5"/>
<circle cx="337.8" cy="382.3" r="0.7" fill="#6cba92"/>
<circle cx="318.9" cy="384.3" r="1.5" fill="#d3f2c5"/>
<circle cx="318.9" cy="384.3" r="0.7" fill="#6cba92"/>
<circle cx="321.3" cy="384.4" r="1.5" fill="#d3f2c5"/>
<circle cx="321.3" cy="384.4" r="0.7" fill="#6cba92"/>
<circle cx="324.1" cy="385" r="1.5" fill="#d0f1dc"/>
<circle cx="324.1" cy="385" r="0.7" fill="#64aaa8"/>
<circle cx="327.8" cy="384.9" r="1.5" fill="#d3f2c5"/>
<circle cx="327.8" cy="384.9" r="0.7" fill="#6cba92"/>
<circle cx="330.2" cy="384.7" r="1.5" fill="#d3f2c5"/>
<circle cx="330.2" cy="384.7" r="0.7" fill="#6cba92"/>
<circle cx="333.6" cy="385" r="1.5" fill="#d3f2c5"/>
<circle cx="333.6" cy="385" r="0.7" fill="#6cba92"/>
<circle cx="336.9" cy="384.3" r="1.5" fill="#d3f2c5"/>
<circle cx="336.9" cy="384.3" r="0.7" fill="#6cba92"/>
<circle cx="339.7" cy="384.8" r="1.5" fill="#d3f2c5"/>
<circle cx="339.7" cy="384.8" r="0.7" fill="#6cba92"/>
<circle cx="342.8" cy="384.4" r="1.5" fill="#d0f1dc"/>
<circle cx="342.8" cy="384.4" r="0.7" fill="#64aaa8"/>
<circle cx="320.3" cy="387" r="1.5" fill="#d3f2c5"/>
<circle cx="320.3" cy="387" r="0.7" fill="#6cba92"/>
<circle cx="322.6" cy="386.9" r="1.5" fill="#d3f2c5"/>
<circle cx="322.6" cy="386.9" r="0.7" fill="#6cba92"/>
<circle cx="326.2" cy="387.3" r="1.5" fill="#d3f2c5"/>
<circle cx="326.2" cy="387.3" r="0.7" fill="#6cba92"/>
<circle cx="329.4" cy="387.3" r="1.5" fill="#d3f2c5"/>
<circle cx="329.4" cy="387.3" r="0.7" fill="#6cba92"/>
<circle cx="331.6" cy="387.6" r="1.5" fill="#d3f2c5"/>
<circle cx="331.6" cy="387.6" r="0.7" fill="#6cba92"/>
<circle cx="335.4" cy="387.3" r="1.5" fill="#d0f1dc"/>
<circle cx="335.4" cy="387.3" r="0.7" fill="#64aaa8"/>
<circle cx="337.6" cy="387" r="1.5" fill="#d3f2c5"/>
<circle cx="337.6" cy="387" r="0.7" fill="#6cba92"/>
<circle cx="341.4" cy="387.6" r="1.5" fill="#d0f1dc"/>
<circle cx="341.4" cy="387.6" r="0.7" fill="#64aaa8"/>
<circle cx="321.3" cy="390.1" r="1.5" fill="#d3f2c5"/>
<circle cx="321.3" cy="390.1" r="0.7" fill="#6cba92"/>
<circle cx="324.7" cy="389.9" r="1.5" fill="#d3f2c5"/>
<circle cx="324.7" cy="389.9" r="0.7" fill="#6cba92"/>
<circle cx="327.8" cy="390" r="1.5" fill="#d3f2c5"/>
<circle cx="327.8" cy="390" r="0.7" fill="#6cba92"/>
<circle cx="330.7" cy="390" r="1.5" fill="#d0f1dc"/>
<circle cx="330.7" cy="390" r="0.7" fill="#64aaa8"/>
<circle cx="333.5" cy="389.5" r="1.5" fill="#d3f2c5"/>
<circle cx="333.5" cy="389.5" r="0.7" fill="#6cba92"/>
<circle cx="336.5" cy="389.4" r="1.5" fill="#d3f2c5"/>
<circle cx="336.5" cy="389.4" r="0.7" fill="#6cba92"/>
<circle cx="339.8" cy="389.6" r="1.5" fill="#eceea4"/>
<circle cx="339.8" cy="389.6" r="0.7" fill="#cdb95c"/>
<circle cx="323.3" cy="392.8" r="1.5" fill="#d3f2c5"/>
<circle cx="323.3" cy="392.8" r="0.7" fill="#6cba92"/>
<circle cx="326.4" cy="392.8" r="1.5" fill="#d3f2c5"/>
<circle cx="326.4" cy="392.8" r="0.7" fill="#6cba92"/>
<circle cx="329.3" cy="392.7" r="1.5" fill="#eceea4"/>
<circle cx="329.3" cy="392.7" r="0.7" fill="#cdb95c"/>
<circle cx="331.6" cy="392.5" r="1.5" fill="#d3f2c5"/>
<circle cx="331.6" cy="392.5" r="0.7" fill="#6cba92"/>
<circle cx="334.8" cy="392.5" r="1.5" fill="#d3f2c5"/>
<circle cx="334.8" cy="392.5" r="0.7" fill="#6cba92"/>
<circle cx="338.1" cy="392" r="1.5" fill="#d3f2c5"/>
<circle cx="338.1" cy="392" r="0.7" fill="#6cba92"/>
<circle cx="324.1" cy="395.2" r="1.5" fill="#d3f2c5"/>
<circle cx="324.1" cy="395.2" r="0.7" fill="#6cba92"/>
<circle cx="327.7" cy="394.6" r="1.5" fill="#d0f1dc"/>
<circle cx="327.7" cy="394.6" r="0.7" fill="#64aaa8"/>
<circle cx="333.8" cy="395.1" r="1.5" fill="#eceea4"/>
<circle cx="333.8" cy="395.1" r="0.7" fill="#cdb95c"/></g>
<text x="329.9" y="411.4" font-size="14" text-anchor="middle">or</text>
<g filter="url(#soft)"><circle cx="329.1" cy="457.6" r="2.2" fill="#f6bcbd"/>
<circle cx="329.1" cy="457.6" r="1" fill="#e7858f"/>
<circle cx="325.1" cy="457.4" r="2.3" fill="#f6bcbd"/>
<circle cx="325.1" cy="457.4" r="1" fill="#e7858f"/>
<circle cx="321.4" cy="456" r="2.4" fill="#f6bcbd"/>
<circle cx="321.4" cy="456" r="1.1" fill="#e7858f"/>
<circle cx="319.6" cy="452.6" r="2.6" fill="#f6bcbd"/>
<circle cx="319.6" cy="452.6" r="1.2" fill="#e7858f"/>
<circle cx="317.7" cy="450" r="2.8" fill="#f6bcbd"/>
<circle cx="317.7" cy="450" r="1.3" fill="#e7858f"/>
<circle cx="314.9" cy="447.6" r="2.6" fill="#f6bcbd"/>
<circle cx="314.9" cy="447.6" r="1.1" fill="#e7858f"/>
<circle cx="314.4" cy="444.4" r="2.1" fill="#f6bcbd"/>
<circle cx="314.4" cy="444.4" r="1" fill="#e7858f"/>
<circle cx="312.4" cy="440.9" r="2.8" fill="#f6bcbd"/>
<circle cx="312.4" cy="440.9" r="1.3" fill="#e7858f"/>
<circle cx="313.7" cy="437.5" r="2.5" fill="#f6bcbd"/>
<circle cx="313.7" cy="437.5" r="1.1" fill="#e7858f"/>
<circle cx="315.7" cy="434.4" r="2.6" fill="#f6bcbd"/>
<circle cx="315.7" cy="434.4" r="1.2" fill="#e7858f"/>
<circle cx="318.3" cy="431.8" r="2.3" fill="#f6bcbd"/>
<circle cx="318.3" cy="431.8" r="1" fill="#e7858f"/>
<circle cx="321.2" cy="429.3" r="2.5" fill="#f6bcbd"/>
<circle cx="321.2" cy="429.3" r="1.1" fill="#e7858f"/>
<circle cx="325.4" cy="429.4" r="2.4" fill="#f6bcbd"/>
<circle cx="325.4" cy="429.4" r="1.1" fill="#e7858f"/>
<circle cx="328.8" cy="427.8" r="2.8" fill="#f6bcbd"/>
<circle cx="328.8" cy="427.8" r="1.3" fill="#e7858f"/>
<circle cx="332.5" cy="428.7" r="2.2" fill="#f6bcbd"/>
<circle cx="332.5" cy="428.7" r="1" fill="#e7858f"/>
<circle cx="337" cy="427.2" r="2.6" fill="#f6bcbd"/>
<circle cx="337" cy="427.2" r="1.2" fill="#e7858f"/>
<circle cx="342.6" cy="433.8" r="2.3" fill="#f6bcbd"/>
<circle cx="342.6" cy="433.8" r="1" fill="#e7858f"/>
<circle cx="347.6" cy="434.7" r="2.7" fill="#f6bcbd"/>
<circle cx="347.6" cy="434.7" r="1.2" fill="#e7858f"/>
<circle cx="345.7" cy="438.8" r="2.1" fill="#f6bcbd"/>
<circle cx="345.7" cy="438.8" r="1" fill="#e7858f"/>
<circle cx="349.2" cy="441.5" r="2.3" fill="#f6bcbd"/>
<circle cx="349.2" cy="441.5" r="1.1" fill="#e7858f"/>
<circle cx="347.4" cy="444.7" r="2.4" fill="#f6bcbd"/>
<circle cx="347.4" cy="444.7" r="1.1" fill="#e7858f"/>
<circle cx="346.8" cy="447.8" r="2.7" fill="#f6bcbd"/>
<circle cx="346.8" cy="447.8" r="1.2" fill="#e7858f"/>
<circle cx="347" cy="451.6" r="2.1" fill="#f6bcbd"/>
<circle cx="347" cy="451.6" r="1" fill="#e7858f"/>
<circle cx="341.7" cy="452" r="2.5" fill="#f6bcbd"/>
<circle cx="341.7" cy="452" r="1.1" fill="#e7858f"/>
<circle cx="339.3" cy="454" r="2.3" fill="#f6bcbd"/>
<circle cx="339.3" cy="454" r="1" fill="#e7858f"/>
<circle cx="338" cy="458.7" r="2.4" fill="#f6bcbd"/>
<circle cx="338" cy="458.7" r="1.1" fill="#e7858f"/>
<circle cx="333.3" cy="453.7" r="2.5" fill="#f6bcbd"/>
<circle cx="333.3" cy="453.7" r="1.1" fill="#e7858f"/>
<circle cx="330.1" cy="456.4" r="3" fill="#f6bcbd"/>
<circle cx="330.1" cy="456.4" r="1.3" fill="#e7858f"/>
<circle cx="325.1" cy="431.3" r="2.5" fill="#f6bcbd"/>
<circle cx="325.1" cy="431.3" r="1.1" fill="#e7858f"/>
<circle cx="328" cy="430.8" r="3" fill="#f6bcbd"/>
<circle cx="328" cy="430.8" r="1.3" fill="#e7858f"/>
<circle cx="332" cy="431.1" r="2.3" fill="#f6bcbd"/>
<circle cx="332" cy="431.1" r="1" fill="#e7858f"/>
<circle cx="325.9" cy="453.1" r="2.9" fill="#f6bcbd"/>
<circle cx="325.9" cy="453.1" r="1.3" fill="#e7858f"/>
<circle cx="317.7" cy="449.8" r="2.4" fill="#f6bcbd"/>
<circle cx="317.7" cy="449.8" r="1.1" fill="#e7858f"/>
<circle cx="316.6" cy="442.8" r="2.3" fill="#f6bcbd"/>
<circle cx="316.6" cy="442.8" r="1" fill="#e7858f"/>
<circle cx="317.8" cy="437.2" r="2.8" fill="#f6bcbd"/>
<circle cx="317.8" cy="437.2" r="1.2" fill="#e7858f"/>
<circle cx="322.3" cy="434.1" r="2.9" fill="#f6bcbd"/>
<circle cx="322.3" cy="434.1" r="1.3" fill="#e7858f"/>
<circle cx="346" cy="445.4" r="2.1" fill="#f6bcbd"/>
<circle cx="346" cy="445.4" r="0.9" fill="#e7858f"/>
<circle cx="342.9" cy="449.8" r="2.3" fill="#f6bcbd"/>
<circle cx="342.9" cy="449.8" r="1.1" fill="#e7858f"/>
<circle cx="343.9" cy="439.2" r="2.8" fill="#f6bcbd"/>
<circle cx="343.9" cy="439.2" r="1.3" fill="#e7858f"/>
<circle cx="339.8" cy="452.8" r="2.4" fill="#f6bcbd"/>
<circle cx="339.8" cy="452.8" r="1.1" fill="#e7858f"/></g>
<g filter="url(#soft)"><ellipse cx="330.6" cy="443.4" rx="12.2" ry="12.2" fill="#e1f5d5" opacity="0.9"/>
<circle cx="330.3" cy="429.3" r="2.1" fill="#d3f2c5"/>
<circle cx="330.3" cy="429.3" r="1" fill="#6cba92"/>
<circle cx="324.2" cy="433.1" r="2.1" fill="#d3f2c5"/>
<circle cx="324.2" cy="433.1" r="1" fill="#6cba92"/>
<circle cx="329" cy="432.9" r="2.1" fill="#d3f2c5"/>
<circle cx="329" cy="432.9" r="1" fill="#6cba92"/>
<circle cx="332.5" cy="432.8" r="2.1" fill="#d3f2c5"/>
<circle cx="332.5" cy="432.8" r="1" fill="#6cba92"/>
<circle cx="336.7" cy="432.4" r="2.1" fill="#d3f2c5"/>
<circle cx="336.7" cy="432.4" r="1" fill="#6cba92"/>
<circle cx="340.5" cy="432.7" r="2.1" fill="#d3f2c5"/>
<circle cx="340.5" cy="432.7" r="1" fill="#6cba92"/>
<circle cx="322.5" cy="436.2" r="2.1" fill="#d0f1dc"/>
<circle cx="322.5" cy="436.2" r="1" fill="#64aaa8"/>
<circle cx="326.3" cy="436.7" r="2.1" fill="#d3f2c5"/>
<circle cx="326.3" cy="436.7" r="1" fill="#6cba92"/>
<circle cx="331" cy="436" r="2.1" fill="#eceea4"/>
<circle cx="331" cy="436" r="1" fill="#cdb95c"/>
<circle cx="334.7" cy="436.5" r="2.1" fill="#d3f2c5"/>
<circle cx="334.7" cy="436.5" r="1" fill="#6cba92"/>
<circle cx="339.1" cy="436.4" r="2.1" fill="#d3f2c5"/>
<circle cx="339.1" cy="436.4" r="1" fill="#6cba92"/>
<circle cx="320.6" cy="440" r="2.1" fill="#d3f2c5"/>
<circle cx="320.6" cy="440" r="1" fill="#6cba92"/>
<circle cx="324.3" cy="440.2" r="2.1" fill="#d3f2c5"/>
<circle cx="324.3" cy="440.2" r="1" fill="#6cba92"/>
<circle cx="328.5" cy="439.7" r="2.1" fill="#d3f2c5"/>
<circle cx="328.5" cy="439.7" r="1" fill="#6cba92"/>
<circle cx="332.9" cy="439.5" r="2.1" fill="#d3f2c5"/>
<circle cx="332.9" cy="439.5" r="1" fill="#6cba92"/>
<circle cx="336.4" cy="439.5" r="2.1" fill="#d3f2c5"/>
<circle cx="336.4" cy="439.5" r="1" fill="#6cba92"/>
<circle cx="340.8" cy="440.3" r="2.1" fill="#d3f2c5"/>
<circle cx="340.8" cy="440.3" r="1" fill="#6cba92"/>
<circle cx="317.9" cy="443.6" r="2.1" fill="#d3f2c5"/>
<circle cx="317.9" cy="443.6" r="1" fill="#6cba92"/>
<circle cx="322.6" cy="443.7" r="2.1" fill="#d0f1dc"/>
<circle cx="322.6" cy="443.7" r="1" fill="#64aaa8"/>
<circle cx="326.3" cy="443.4" r="2.1" fill="#d3f2c5"/>
<circle cx="326.3" cy="443.4" r="1" fill="#6cba92"/>
<circle cx="330.5" cy="443.8" r="2.1" fill="#d3f2c5"/>
<circle cx="330.5" cy="443.8" r="1" fill="#6cba92"/>
<circle cx="334.3" cy="443" r="2.1" fill="#d3f2c5"/>
<circle cx="334.3" cy="443" r="1" fill="#6cba92"/>
<circle cx="338.4" cy="443.5" r="2.1" fill="#d3f2c5"/>
<circle cx="338.4" cy="443.5" r="1" fill="#6cba92"/>
<circle cx="320.2" cy="447.4" r="2.1" fill="#d3f2c5"/>
<circle cx="320.2" cy="447.4" r="1" fill="#6cba92"/>
<circle cx="324.1" cy="447.4" r="2.1" fill="#d3f2c5"/>
<circle cx="324.1" cy="447.4" r="1" fill="#6cba92"/>
<circle cx="328.4" cy="446.7" r="2.1" fill="#d3f2c5"/>
<circle cx="328.4" cy="446.7" r="1" fill="#6cba92"/>
<circle cx="332.6" cy="446.7" r="2.1" fill="#d0f1dc"/>
<circle cx="332.6" cy="446.7" r="1" fill="#64aaa8"/>
<circle cx="336.4" cy="447.4" r="2.1" fill="#d0f1dc"/>
<circle cx="336.4" cy="447.4" r="1" fill="#64aaa8"/>
<circle cx="340.6" cy="447" r="2.1" fill="#d3f2c5"/>
<circle cx="340.6" cy="447" r="1" fill="#6cba92"/>
<circle cx="322.8" cy="450.4" r="2.1" fill="#d3f2c5"/>
<circle cx="322.8" cy="450.4" r="1" fill="#6cba92"/>
<circle cx="326.9" cy="450.5" r="2.1" fill="#d0f1dc"/>
<circle cx="326.9" cy="450.5" r="1" fill="#64aaa8"/>
<circle cx="330.3" cy="450.5" r="2.1" fill="#d3f2c5"/>
<circle cx="330.3" cy="450.5" r="1" fill="#6cba92"/>
<circle cx="334.8" cy="450.2" r="2.1" fill="#d0f1dc"/>
<circle cx="334.8" cy="450.2" r="1" fill="#64aaa8"/>
<circle cx="339.2" cy="450.7" r="2.1" fill="#d3f2c5"/>
<circle cx="339.2" cy="450.7" r="1" fill="#6cba92"/>
<circle cx="328.2" cy="454.4" r="2.1" fill="#d3f2c5"/>
<circle cx="328.2" cy="454.4" r="1" fill="#6cba92"/>
<circle cx="333" cy="453.7" r="2.1" fill="#d3f2c5"/>
<circle cx="333" cy="453.7" r="1" fill="#6cba92"/>
<circle cx="336.7" cy="453.8" r="2.1" fill="#d0f1dc"/>
<circle cx="336.7" cy="453.8" r="1" fill="#64aaa8"/></g>
<circle cx="339.1" cy="426.1" r="3.5" fill="#9acbf0"/>
<circle cx="339.3" cy="426.3" r="2.1" fill="#62a6e4"/>
<circle cx="314.9" cy="446" r="2.1" fill="#9acbf0"/>
<circle cx="315.1" cy="446.2" r="1.3" fill="#62a6e4"/>
<path d="M349 410.2H387.5" stroke="#222" stroke-width="1.2" fill="none"/>
<path d="M387.5 334.3V475.6" stroke="#222" stroke-width="1.3" fill="none"/>
<g transform="translate(412.4 334.9) rotate(0)"><path d="M-24.9 0H-4" stroke="#111" stroke-width="1.3" fill="none"/><path d="M0.2 0L-6.2 -3.05L-4.6 0L-6.2 3.05Z" fill="#111"/></g>
<g transform="translate(412.4 366.9) rotate(0)"><path d="M-24.9 0H-4" stroke="#111" stroke-width="1.3" fill="none"/><path d="M0.2 0L-6.2 -3.05L-4.6 0L-6.2 3.05Z" fill="#111"/></g>
<g transform="translate(412.4 404) rotate(0)"><path d="M-24.9 0H-4" stroke="#111" stroke-width="1.3" fill="none"/><path d="M0.2 0L-6.2 -3.05L-4.6 0L-6.2 3.05Z" fill="#111"/></g>
<g transform="translate(412.4 442.3) rotate(0)"><path d="M-24.9 0H-4" stroke="#111" stroke-width="1.3" fill="none"/><path d="M0.2 0L-6.2 -3.05L-4.6 0L-6.2 3.05Z" fill="#111"/></g>
<g transform="translate(412.4 475) rotate(0)"><path d="M-24.9 0H-4" stroke="#111" stroke-width="1.3" fill="none"/><path d="M0.2 0L-6.2 -3.05L-4.6 0L-6.2 3.05Z" fill="#111"/></g>
<text x="415.4" y="339.3" font-size="14">FGFR1 inhibitor</text>
<text x="415.4" y="371.7" font-size="14">galunisertib</text>
<text x="480.5" y="403.2" font-size="14" text-anchor="middle">FOS/JUN pathway</text>
<text x="480.5" y="420.2" font-size="14" text-anchor="middle">inhibitors</text>
<text x="418.5" y="446" font-size="14">Fasudil</text>
<text x="419.6" y="471" font-size="14" font-weight="700">...</text>
<path d="M541 334.2H560.7V474H541" stroke="#222" stroke-width="1.3" fill="none"/>
<g transform="translate(592.3 410.4) rotate(0)"><path d="M-31.6 0H-4" stroke="#111" stroke-width="1.3" fill="none"/><path d="M0.2 0L-6.2 -3.05L-4.6 0L-6.2 3.05Z" fill="#111"/></g>
<g transform="translate(606.3 421) rotate(-15.7)"><path d="M0 -12.1H30A12.1 12.1 0 0 1 30 12.1H0A12.1 12.1 0 0 1 0 -12.1Z" fill="#6c8ed0"/><path d="M0 -12.1H14.2C16.6 -6 16.6 6 14.2 12.1H0A12.1 12.1 0 0 1 0 -12.1Z" fill="#b9dbf5"/><path d="M-2 -11.4A11.4 11.4 0 0 0 -9 7" fill="none" stroke="#d6ebfb" stroke-width="0.9" opacity="0.9"/></g>
<g transform="translate(635.2 397.8) rotate(49.9)"><path d="M0 -12.8H28.1A12.8 12.8 0 0 1 28.1 12.8H0A12.8 12.8 0 0 1 0 -12.8Z" fill="#6c8ed0"/><path d="M28.1 11.9A11.9 11.9 0 0 0 39.6 3" fill="none" stroke="#a9c6f0" stroke-width="1" opacity="0.9"/><path d="M30 11.9H10" fill="none" stroke="#a9c6f0" stroke-width="0.8" opacity="0.7"/><path d="M0 -12.8H12.6C15.8 -6 15.8 6 12.6 12.8H0A12.8 12.8 0 0 1 0 -12.8Z" fill="#b9dbf5"/><path d="M-11.9 2A11.9 11.9 0 0 1 2 -11.9" fill="none" stroke="#d9edfb" stroke-width="1" opacity="0.9"/></g>
</svg></body></html>
